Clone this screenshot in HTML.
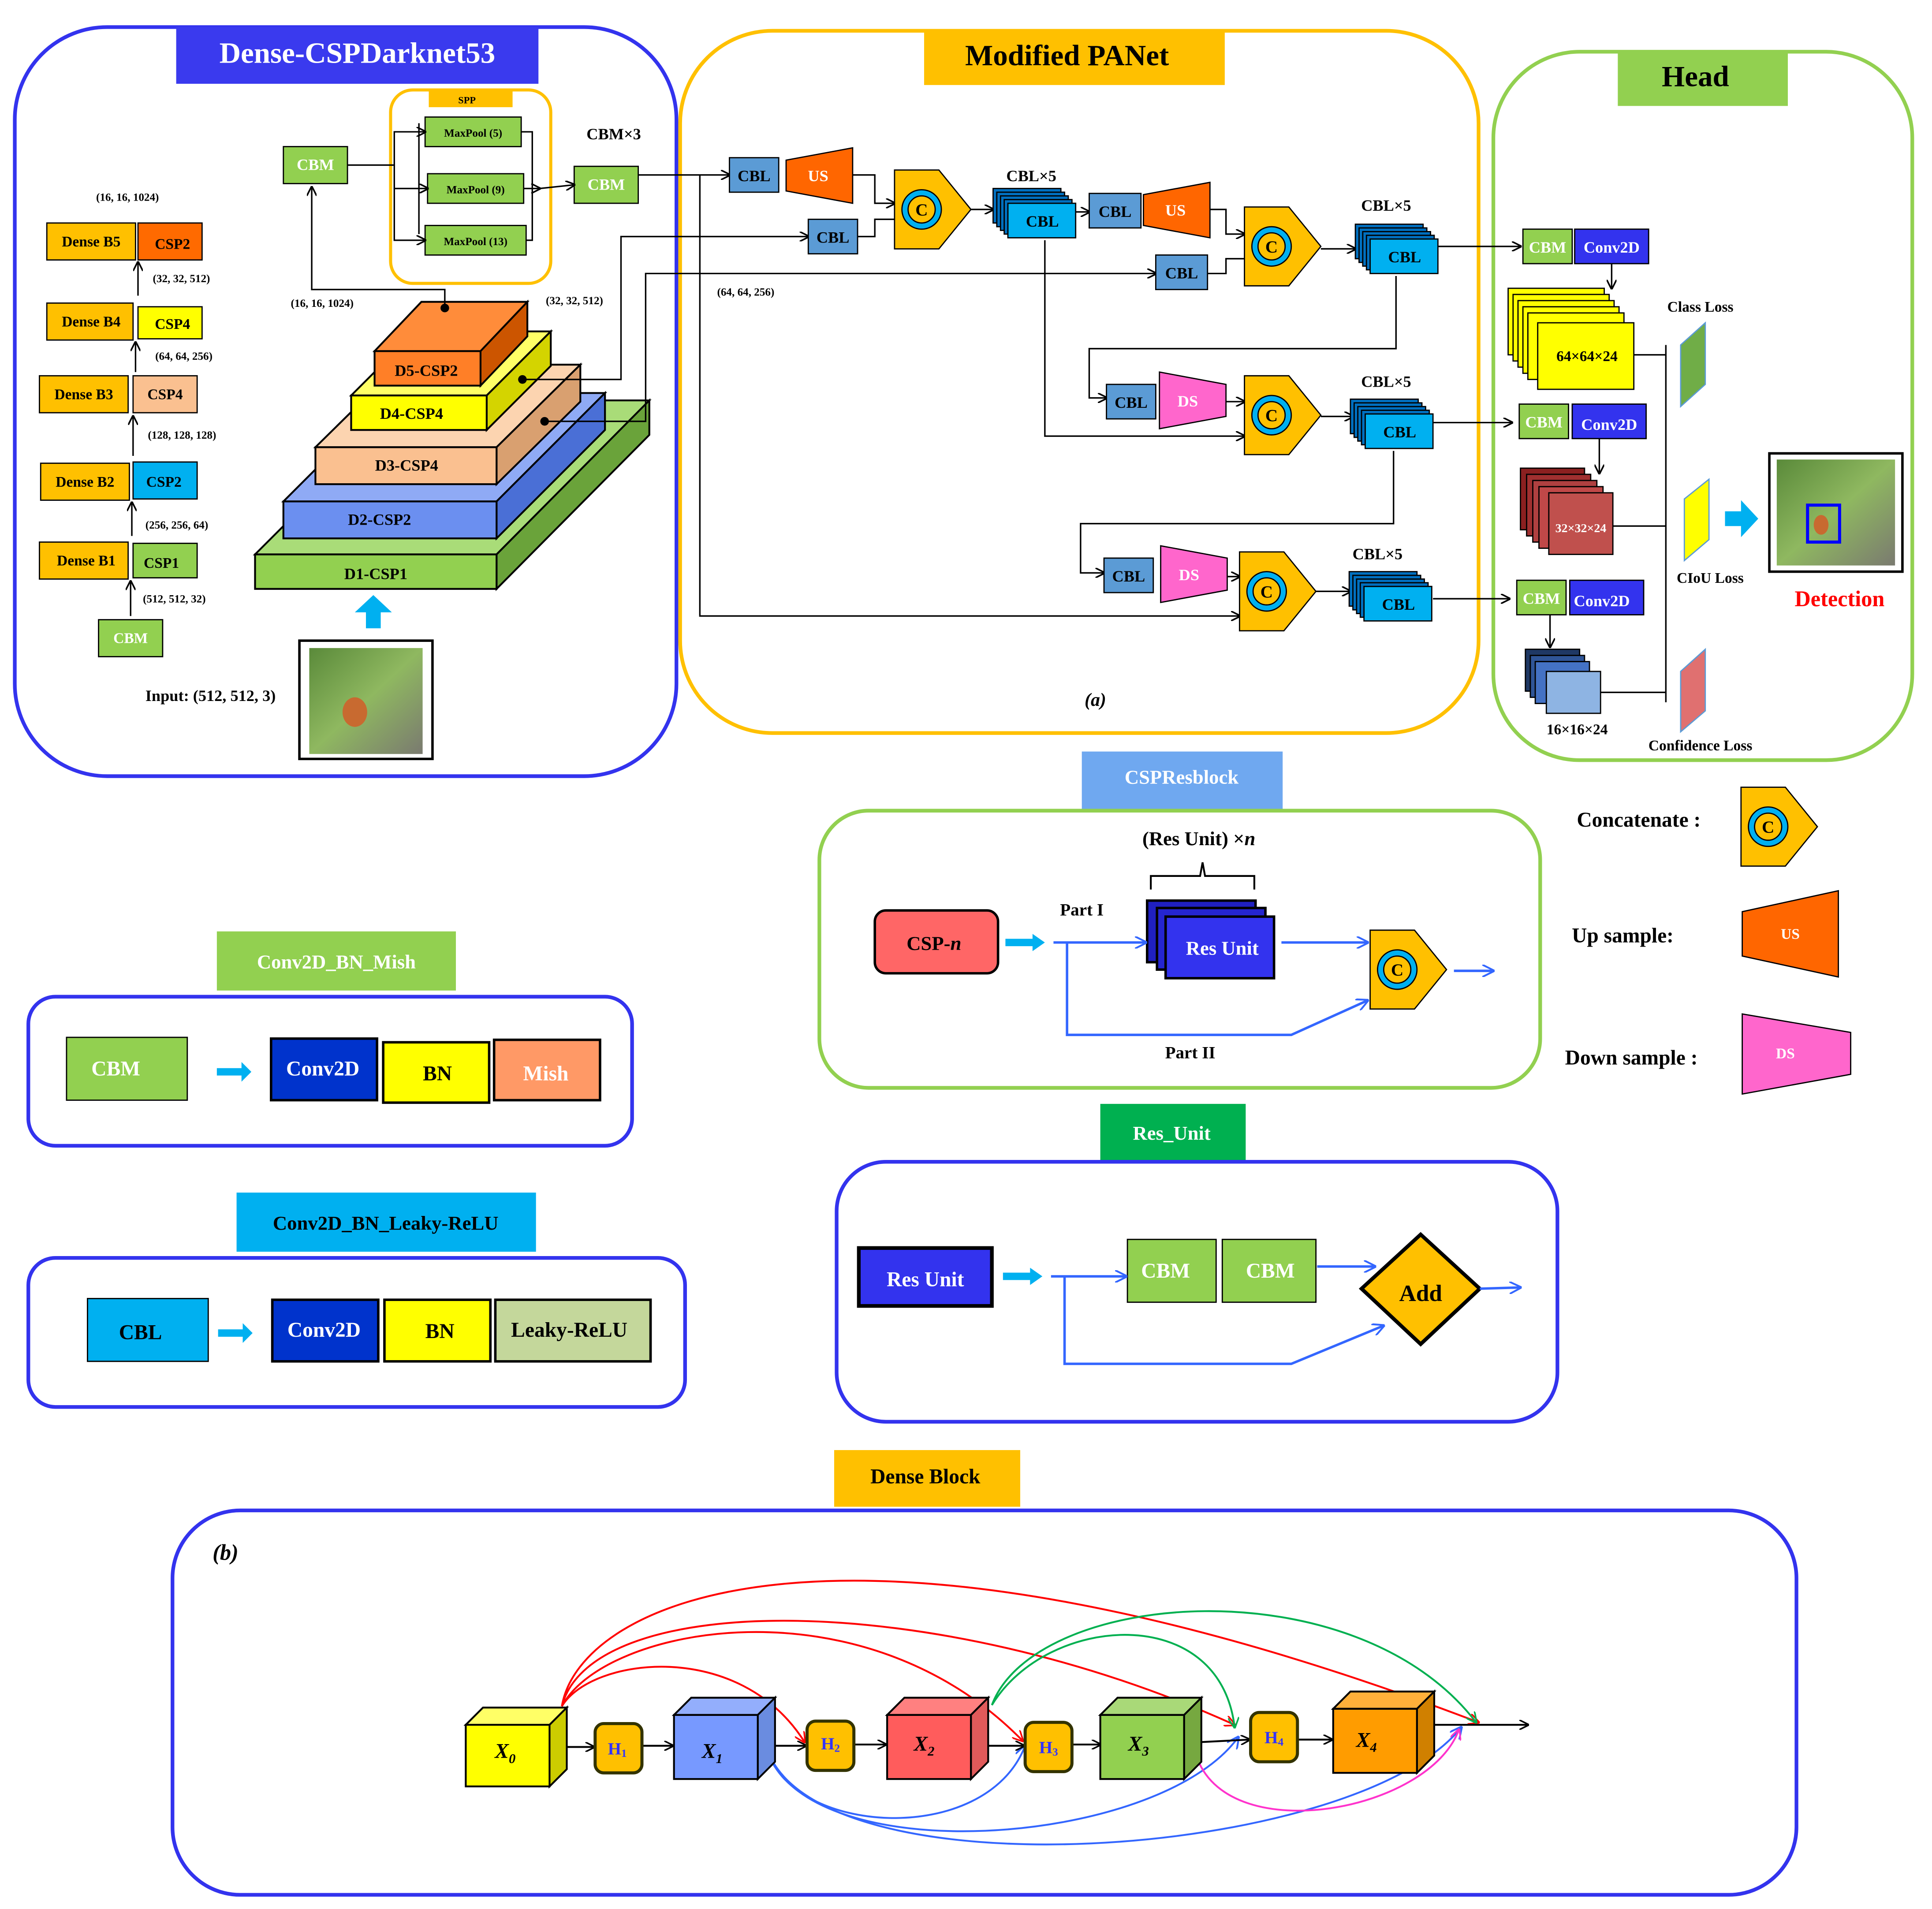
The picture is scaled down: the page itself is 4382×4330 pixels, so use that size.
<!DOCTYPE html>
<html><head><meta charset="utf-8">
<style>
html,body{margin:0;padding:0;background:#fff;}
svg{display:block;}
text{font-family:"Liberation Serif",serif;font-weight:bold;}
</style></head>
<body>
<svg xmlns="http://www.w3.org/2000/svg" width="4382" height="4330" viewBox="0 0 1568 1549.5" preserveAspectRatio="none">
<defs>
<marker id="ar" markerWidth="8" markerHeight="8" refX="7" refY="4" orient="auto" markerUnits="userSpaceOnUse"><path d="M0,0 L8,4 L0,8" fill="none" stroke="#000" stroke-width="1.3"/></marker>
<marker id="arb" markerWidth="10" markerHeight="10" refX="9" refY="5" orient="auto" markerUnits="userSpaceOnUse"><path d="M0,0 L10,5 L0,10" fill="none" stroke="#3366ff" stroke-width="1.5"/></marker>
<marker id="arr" markerWidth="9" markerHeight="9" refX="8" refY="4.5" orient="auto" markerUnits="userSpaceOnUse"><path d="M0,0 L9,4.5 L0,9" fill="none" stroke="#f00" stroke-width="1.3"/></marker>
<marker id="arg" markerWidth="9" markerHeight="9" refX="8" refY="4.5" orient="auto" markerUnits="userSpaceOnUse"><path d="M0,0 L9,4.5 L0,9" fill="none" stroke="#00b050" stroke-width="1.3"/></marker>
<marker id="arp" markerWidth="9" markerHeight="9" refX="8" refY="4.5" orient="auto" markerUnits="userSpaceOnUse"><path d="M0,0 L9,4.5 L0,9" fill="none" stroke="#ff33cc" stroke-width="1.3"/></marker>
<linearGradient id="leaf" x1="0" y1="0" x2="1" y2="1"><stop offset="0" stop-color="#5a8a3a"/><stop offset="0.5" stop-color="#8fb860"/><stop offset="1" stop-color="#7a7a70"/></linearGradient>
<g id="concat"><polygon points="0,0 36,0 62,32 36,64 0,64" fill="#ffc000" stroke="#000" stroke-width="1"/><circle cx="22" cy="32" r="16" fill="#00b0f0" stroke="#000" stroke-width="1"/><circle cx="22" cy="32" r="11" fill="#ffc000" stroke="#000" stroke-width="1"/><text x="22" y="37" font-size="14" text-anchor="middle">C</text></g>
<g id="stack"><rect x="0" y="0" width="55" height="28" fill="#0070c0" stroke="#000"/><rect x="3" y="3" width="55" height="28" fill="#0070c0" stroke="#000"/><rect x="6" y="6" width="55" height="28" fill="#0070c0" stroke="#000"/><rect x="9" y="9" width="55" height="28" fill="#0070c0" stroke="#000"/><rect x="12" y="12" width="55" height="28" fill="#00b0f0" stroke="#000"/><text x="40" y="31" font-size="13" text-anchor="middle">CBL</text></g>
</defs>

<rect x="12" y="22" width="537" height="608" rx="75" fill="none" stroke="#3333ee" stroke-width="3"/>
<rect x="143" y="22" width="294" height="46" fill="#3a3aee"/>
<text x="290" y="51" font-size="24" fill="#fff" text-anchor="middle">Dense-CSPDarknet53</text>

<rect x="552" y="25" width="648" height="570" rx="75" fill="none" stroke="#ffc000" stroke-width="3"/>
<rect x="750" y="25" width="244" height="44" fill="#ffc000"/>
<text x="866" y="53" font-size="24" text-anchor="middle">Modified PANet</text>

<rect x="1212" y="42" width="340" height="575" rx="70" fill="none" stroke="#92d050" stroke-width="3"/>
<rect x="1313" y="42" width="138" height="44" fill="#92d050"/>
<text x="1376" y="70" font-size="24" text-anchor="middle">Head</text>

<g font-size="12">
<rect x="38" y="181" width="72" height="30" fill="#ffc000" stroke="#000"/><text x="74" y="200" text-anchor="middle">Dense B5</text>
<rect x="112" y="181" width="52" height="30" fill="#ff6a00" stroke="#000"/><text x="140" y="202" text-anchor="middle">CSP2</text>
<rect x="38" y="246" width="70" height="30" fill="#ffc000" stroke="#000"/><text x="74" y="265" text-anchor="middle">Dense B4</text>
<rect x="112" y="249" width="52" height="26" fill="#ffff00" stroke="#000"/><text x="140" y="267" text-anchor="middle">CSP4</text>
<rect x="32" y="305" width="72" height="30" fill="#ffc000" stroke="#000"/><text x="68" y="324" text-anchor="middle">Dense B3</text>
<rect x="108" y="305" width="52" height="30" fill="#fac090" stroke="#000"/><text x="134" y="324" text-anchor="middle">CSP4</text>
<rect x="33" y="376" width="72" height="30" fill="#ffc000" stroke="#000"/><text x="69" y="395" text-anchor="middle">Dense B2</text>
<rect x="108" y="375" width="52" height="30" fill="#00b0f0" stroke="#000"/><text x="133" y="395" text-anchor="middle">CSP2</text>
<rect x="32" y="440" width="72" height="30" fill="#ffc000" stroke="#000"/><text x="70" y="459" text-anchor="middle">Dense B1</text>
<rect x="108" y="441" width="52" height="28" fill="#92d050" stroke="#000"/><text x="131" y="461" text-anchor="middle">CSP1</text>
<rect x="80" y="503" width="52" height="30" fill="#92d050" stroke="#000"/><text x="106" y="522" text-anchor="middle" fill="#fff">CBM</text>
</g>
<g stroke="#000" stroke-width="1.2" marker-end="url(#ar)">
<line x1="112" y1="240" x2="112" y2="213"/><line x1="110" y1="302" x2="110" y2="278"/><line x1="108" y1="370" x2="108" y2="338"/><line x1="107" y1="435" x2="107" y2="408"/><line x1="106" y1="500" x2="106" y2="472"/>
</g>
<g font-size="9">
<text x="78" y="163">(16, 16, 1024)</text><text x="124" y="229">(32, 32, 512)</text><text x="126" y="292">(64, 64, 256)</text><text x="120" y="356">(128, 128, 128)</text><text x="118" y="429">(256, 256, 64)</text><text x="116" y="489">(512, 512, 32)</text>
<text x="236" y="249">(16, 16, 1024)</text><text x="443" y="247">(32, 32, 512)</text><text x="582" y="240">(64, 64, 256)</text>
</g>
<text x="118" y="569" font-size="13">Input: (512, 512, 3)</text>
<rect x="243" y="520" width="108" height="96" fill="#fff" stroke="#000" stroke-width="2"/>
<rect x="251" y="526" width="92" height="86" fill="url(#leaf)"/>
<ellipse cx="288" cy="578" rx="10" ry="12" fill="#c86a30"/>
<polygon points="303,483 318,497 309,497 309,510 297,510 297,497 288,497" fill="#00b0f0"/>

<g stroke="#000" stroke-width="1.5">
<polygon points="207,450 332,325 527,325 403,450" fill="#a9dc78"/>
<polygon points="403,450 527,325 527,353 403,478" fill="#6aa33a"/>
<rect x="207" y="450" width="196" height="28" fill="#92d050"/>
<polygon points="230,407 318,319 491,319 403,407" fill="#8faaf5"/>
<polygon points="403,407 491,319 491,349 403,437" fill="#4a6fd6"/>
<rect x="230" y="407" width="173" height="30" fill="#6b8ff0"/>
<polygon points="256,363 324,296 471,296 403,363" fill="#fcd4b0"/>
<polygon points="403,363 471,296 471,326 403,393" fill="#d9a070"/>
<rect x="256" y="363" width="147" height="30" fill="#fac090"/>
<polygon points="285,321 337,269 447,269 395,321" fill="#ffff66"/>
<polygon points="395,321 447,269 447,297 395,349" fill="#d4d400"/>
<rect x="285" y="321" width="110" height="28" fill="#ffff00"/>
<polygon points="304,285 342,245 428,245 390,285" fill="#ff8c3a"/>
<polygon points="390,285 428,245 428,273 390,313" fill="#cc5500"/>
<rect x="304" y="285" width="86" height="28" fill="#ff7f27"/>
</g>
<g font-size="13" text-anchor="middle">
<text x="305" y="470">D1-CSP1</text><text x="308" y="426">D2-CSP2</text><text x="330" y="382">D3-CSP4</text><text x="334" y="340">D4-CSP4</text><text x="346" y="305">D5-CSP2</text>
</g>

<rect x="317" y="73" width="130" height="157" rx="18" fill="none" stroke="#ffc000" stroke-width="2.5"/>
<rect x="348" y="73" width="68" height="14" fill="#ffc000"/><text x="379" y="84" font-size="8" text-anchor="middle">SPP</text>
<g font-size="9" text-anchor="middle">
<rect x="345" y="95" width="78" height="24" fill="#92d050" stroke="#000"/><text x="384" y="111">MaxPool  (5)</text>
<rect x="347" y="141" width="78" height="24" fill="#92d050" stroke="#000"/><text x="386" y="157">MaxPool  (9)</text>
<rect x="345" y="183" width="82" height="24" fill="#92d050" stroke="#000"/><text x="386" y="199">MaxPool  (13)</text>
</g>
<rect x="230" y="119" width="52" height="30" fill="#92d050" stroke="#000"/><text x="256" y="138" font-size="13" fill="#fff" text-anchor="middle">CBM</text>
<rect x="466" y="135" width="52" height="30" fill="#92d050" stroke="#000"/><text x="492" y="154" font-size="13" fill="#fff" text-anchor="middle">CBM</text>
<text x="476" y="113" font-size="13">CBM×3</text>
<g stroke="#000" stroke-width="1.2" fill="none">
<polyline points="282,134 305,134 320,134 320,107 345,107" marker-end="url(#ar)"/>
<polyline points="320,134 320,153 347,153" marker-end="url(#ar)"/>
<polyline points="320,153 320,195 345,195" marker-end="url(#ar)"/>
<polyline points="340,100 340,190"/>
<polyline points="423,107 432,107 432,195 427,195"/>
<polyline points="425,153 438,153 438,153" marker-end="url(#ar)"/>
<polyline points="438,153 466,150" marker-end="url(#ar)"/>
<polyline points="361,250 361,235 253,235 253,152" marker-end="url(#ar)"/>
</g>
<circle cx="361" cy="250" r="3.5" fill="#000"/>
<circle cx="424" cy="308" r="3.5" fill="#000"/>
<circle cx="442" cy="342" r="3.5" fill="#000"/>

<g stroke="#000" stroke-width="1.2" fill="none">
<polyline points="518,142 592,142" marker-end="url(#ar)"/>
<polyline points="424,308 504,308 504,192 656,192" marker-end="url(#ar)"/>
<polyline points="442,342 524,342 524,222 938,222" marker-end="url(#ar)"/>
<polyline points="568,142 568,500 1006,500" marker-end="url(#ar)"/>
<polyline points="692,142 710,142 710,165 726,165" marker-end="url(#ar)"/>
<polyline points="696,192 710,192 710,178 726,178"/>
<polyline points="788,170 806,170" marker-end="url(#ar)"/>
<polyline points="872,172 884,172" marker-end="url(#ar)"/>
<polyline points="982,170 995,170 995,190 1010,190" marker-end="url(#ar)"/>
<polyline points="980,222 995,222 995,210 1010,210"/>
<polyline points="1072,202 1100,202" marker-end="url(#ar)"/>
<polyline points="1167,200 1234,200" marker-end="url(#ar)"/>
<polyline points="1133,224 1133,283 884,283 884,323 898,323" marker-end="url(#ar)"/>
<polyline points="848,195 848,354 1010,354" marker-end="url(#ar)"/>
<polyline points="995,326 1010,326" marker-end="url(#ar)"/>
<polyline points="1072,338 1098,338" marker-end="url(#ar)"/>
<polyline points="1163,343 1227,343" marker-end="url(#ar)"/>
<polyline points="1131,366 1131,425 877,425 877,465 896,465" marker-end="url(#ar)"/>
<polyline points="996,468 1006,468" marker-end="url(#ar)"/>
<polyline points="1068,480 1096,480" marker-end="url(#ar)"/>
<polyline points="1163,486 1225,486" marker-end="url(#ar)"/>
</g>
<g font-size="13" text-anchor="middle">
<rect x="592" y="128" width="40" height="28" fill="#5b9bd5" stroke="#000"/><text x="612" y="147">CBL</text>
<rect x="656" y="178" width="40" height="28" fill="#5b9bd5" stroke="#000"/><text x="676" y="197">CBL</text>
<rect x="884" y="157" width="42" height="28" fill="#5b9bd5" stroke="#000"/><text x="905" y="176">CBL</text>
<rect x="938" y="207" width="42" height="28" fill="#5b9bd5" stroke="#000"/><text x="959" y="226">CBL</text>
<rect x="898" y="312" width="40" height="28" fill="#5b9bd5" stroke="#000"/><text x="918" y="331">CBL</text>
<rect x="896" y="453" width="40" height="28" fill="#5b9bd5" stroke="#000"/><text x="916" y="472">CBL</text>
<polygon points="638,130 692,120 692,165 638,155" fill="#ff6600" stroke="#000"/><text x="664" y="147" fill="#fff">US</text>
<polygon points="928,158 982,148 982,193 928,183" fill="#ff6600" stroke="#000"/><text x="954" y="175" fill="#fff">US</text>
<polygon points="941,302 995,312 995,338 941,348" fill="#ff66cc" stroke="#000"/><text x="964" y="330" fill="#fff">DS</text>
<polygon points="942,443 996,453 996,479 942,489" fill="#ff66cc" stroke="#000"/><text x="965" y="471" fill="#fff">DS</text>
<text x="837" y="147">CBL×5</text><text x="1125" y="171">CBL×5</text><text x="1125" y="314">CBL×5</text><text x="1118" y="454">CBL×5</text>
</g>
<use href="#concat" x="726" y="138"/>
<use href="#concat" x="1010" y="168"/>
<use href="#concat" x="1010" y="305"/>
<use href="#concat" x="1006" y="448"/>
<use href="#stack" x="806" y="153"/>
<use href="#stack" x="1100" y="182"/>
<use href="#stack" x="1096" y="324"/>
<use href="#stack" x="1095" y="464"/>
<text x="889" y="573" font-size="15" font-style="italic" text-anchor="middle">(a)</text>

<g font-size="13" text-anchor="middle">
<rect x="1236" y="186" width="40" height="28" fill="#92d050" stroke="#000"/><text x="1256" y="205" fill="#fff">CBM</text>
<rect x="1278" y="186" width="60" height="28" fill="#3333ee" stroke="#000"/><text x="1308" y="205" fill="#fff">Conv2D</text>
<rect x="1233" y="328" width="40" height="28" fill="#92d050" stroke="#000"/><text x="1253" y="347" fill="#fff">CBM</text>
<rect x="1276" y="328" width="60" height="28" fill="#3333ee" stroke="#000"/><text x="1306" y="349" fill="#fff">Conv2D</text>
<rect x="1231" y="471" width="40" height="28" fill="#92d050" stroke="#000"/><text x="1251" y="490" fill="#fff">CBM</text>
<rect x="1274" y="471" width="60" height="28" fill="#3333ee" stroke="#000"/><text x="1300" y="492" fill="#fff">Conv2D</text>
</g>
<g stroke="#000" stroke-width="1">
<rect x="1224" y="234" width="78" height="54" fill="#ffff00"/><rect x="1228" y="239" width="78" height="54" fill="#ffff00"/><rect x="1232" y="244" width="78" height="54" fill="#ffff00"/><rect x="1236" y="249" width="78" height="54" fill="#ffff00"/><rect x="1240" y="254" width="78" height="54" fill="#ffff00"/><rect x="1248" y="262" width="78" height="54" fill="#ffff00"/>
<rect x="1234" y="380" width="52" height="50" fill="#8b2020"/><rect x="1239" y="385" width="52" height="50" fill="#a03030"/><rect x="1244" y="390" width="52" height="50" fill="#b04040"/><rect x="1249" y="395" width="52" height="50" fill="#c04848"/><rect x="1257" y="400" width="52" height="50" fill="#c0504d"/>
<rect x="1238" y="527" width="44" height="34" fill="#1f3864"/><rect x="1242" y="532" width="44" height="34" fill="#2f5597"/><rect x="1246" y="537" width="44" height="34" fill="#4472c4"/><rect x="1255" y="545" width="44" height="34" fill="#8eb4e3"/>
</g>
<text x="1288" y="293" font-size="12" text-anchor="middle">64×64×24</text>
<text x="1283" y="432" font-size="10" fill="#fff" text-anchor="middle">32×32×24</text>
<text x="1280" y="596" font-size="12" text-anchor="middle">16×16×24</text>
<g stroke="#000" stroke-width="1.2" fill="none">
<polyline points="1308,214 1308,234" marker-end="url(#ar)"/>
<polyline points="1298,356 1298,384" marker-end="url(#ar)"/>
<polyline points="1258,499 1258,525" marker-end="url(#ar)"/>
<polyline points="1326,288 1352,288"/>
<polyline points="1309,427 1352,427"/>
<polyline points="1299,562 1352,562"/>
<polyline points="1352,280 1352,570"/>
</g>
<polygon points="1364,280 1384,262 1384,312 1364,330" fill="#70ad47" stroke="#5b9bd5"/>
<polygon points="1367,405 1387,389 1387,438 1367,455" fill="#ffff00" stroke="#5b9bd5"/>
<polygon points="1364,545 1384,527 1384,577 1364,594" fill="#e07070" stroke="#5b9bd5"/>
<g font-size="12" text-anchor="middle">
<text x="1380" y="253">Class Loss</text><text x="1388" y="473">CIoU Loss</text><text x="1380" y="609">Confidence Loss</text>
</g>
<polygon points="1400,415 1413,415 1413,406 1427,421 1413,436 1413,427 1400,427" fill="#00b0f0"/>
<rect x="1436" y="368" width="108" height="96" fill="#fff" stroke="#000" stroke-width="2"/>
<rect x="1442" y="373" width="96" height="86" fill="url(#leaf)"/>
<rect x="1467" y="410" width="26" height="30" fill="none" stroke="#0000ff" stroke-width="2.5"/>
<ellipse cx="1478" cy="426" rx="6" ry="8" fill="#c86a30"/>
<text x="1493" y="492" font-size="18" fill="#f00" text-anchor="middle">Detection</text>

<rect x="878" y="610" width="163" height="48" fill="#6fa8f0"/>
<text x="959" y="636" font-size="16" fill="#fff" text-anchor="middle">CSPResblock</text>
<rect x="665" y="658" width="585" height="225" rx="40" fill="none" stroke="#92d050" stroke-width="3"/>
<rect x="710" y="739" width="100" height="51" rx="9" fill="#ff6666" stroke="#000" stroke-width="2"/>
<text x="758" y="771" font-size="16" text-anchor="middle">CSP-<tspan font-style="italic">n</tspan></text>
<polygon points="816,762 838,762 838,758 848,765 838,772 838,768 816,768" fill="#00b0f0"/>
<text x="973" y="686" font-size="16" text-anchor="middle">(Res Unit) ×<tspan font-style="italic">n</tspan></text>
<path d="M934,722 L934,711 L974,711 L976,700 L978,711 L1018,711 L1018,722" fill="none" stroke="#000" stroke-width="1.5"/>
<rect x="931" y="731" width="88" height="50" fill="#2020c0" stroke="#000" stroke-width="2"/>
<rect x="939" y="737" width="88" height="50" fill="#2525d0" stroke="#000" stroke-width="2"/>
<rect x="946" y="744" width="88" height="50" fill="#3333ee" stroke="#000" stroke-width="2"/>
<text x="992" y="775" font-size="16" fill="#fff" text-anchor="middle">Res Unit</text>
<text x="878" y="743" font-size="14" text-anchor="middle">Part I</text>
<text x="966" y="859" font-size="14" text-anchor="middle">Part II</text>
<g stroke="#3366ff" stroke-width="2" fill="none">
<polyline points="855,765 930,765" marker-end="url(#arb)"/>
<polyline points="866,765 866,840 1048,840 1110,812" marker-end="url(#arb)"/>
<polyline points="1040,765 1110,765" marker-end="url(#arb)"/>
<polyline points="1180,788 1212,788" marker-end="url(#arb)"/>
</g>
<use href="#concat" x="1112" y="755"/>

<text x="1330" y="671" font-size="17" text-anchor="middle">Concatenate :</text>
<use href="#concat" x="1413" y="639"/>
<text x="1317" y="765" font-size="17" text-anchor="middle">Up sample:</text>
<polygon points="1414,740 1492,723 1492,793 1414,776" fill="#ff6600" stroke="#000"/><text x="1453" y="762" font-size="12" fill="#fff" text-anchor="middle">US</text>
<text x="1324" y="864" font-size="17" text-anchor="middle">Down sample :</text>
<polygon points="1414,823 1502,838 1502,872 1414,888" fill="#ff66cc" stroke="#000"/><text x="1449" y="859" font-size="12" fill="#fff" text-anchor="middle">DS</text>

<rect x="176" y="756" width="194" height="48" fill="#92d050"/>
<text x="273" y="786" font-size="16" fill="#fff" text-anchor="middle">Conv2D_BN_Mish</text>
<rect x="23" y="809" width="490" height="121" rx="22" fill="none" stroke="#3333ee" stroke-width="3"/>
<rect x="54" y="842" width="98" height="51" fill="#92d050" stroke="#000"/><text x="94" y="873" font-size="17" fill="#fff" text-anchor="middle">CBM</text>
<polygon points="176,867 196,867 196,862 204,870 196,878 196,873 176,873" fill="#00b0f0"/>
<rect x="220" y="843" width="86" height="50" fill="#0033cc" stroke="#000" stroke-width="2"/><text x="262" y="873" font-size="17" fill="#fff" text-anchor="middle">Conv2D</text>
<rect x="311" y="846" width="86" height="49" fill="#ffff00" stroke="#000" stroke-width="2"/><text x="355" y="877" font-size="17" text-anchor="middle">BN</text>
<rect x="401" y="844" width="86" height="49" fill="#ff9966" stroke="#000" stroke-width="2"/><text x="443" y="877" font-size="17" fill="#fff" text-anchor="middle">Mish</text>

<rect x="192" y="968" width="243" height="48" fill="#00b0f0"/>
<text x="313" y="998" font-size="16" text-anchor="middle">Conv2D_BN_Leaky-ReLU</text>
<rect x="23" y="1021" width="533" height="121" rx="22" fill="none" stroke="#3333ee" stroke-width="3"/>
<rect x="71" y="1054" width="98" height="51" fill="#00b0f0" stroke="#000"/><text x="114" y="1087" font-size="17" text-anchor="middle">CBL</text>
<polygon points="177,1079 197,1079 197,1074 205,1082 197,1090 197,1085 177,1085" fill="#00b0f0"/>
<rect x="221" y="1055" width="86" height="50" fill="#0033cc" stroke="#000" stroke-width="2"/><text x="263" y="1085" font-size="17" fill="#fff" text-anchor="middle">Conv2D</text>
<rect x="312" y="1055" width="86" height="50" fill="#ffff00" stroke="#000" stroke-width="2"/><text x="357" y="1086" font-size="17" text-anchor="middle">BN</text>
<rect x="402" y="1055" width="126" height="50" fill="#c4d79b" stroke="#000" stroke-width="2"/><text x="462" y="1085" font-size="17" text-anchor="middle">Leaky-ReLU</text>

<rect x="893" y="896" width="118" height="46" fill="#00b050"/>
<text x="951" y="925" font-size="16" fill="#fff" text-anchor="middle">Res_Unit</text>
<rect x="679" y="943" width="585" height="211" rx="40" fill="none" stroke="#3333ee" stroke-width="3"/>
<rect x="697" y="1013" width="108" height="47" fill="#3333ee" stroke="#000" stroke-width="3"/><text x="751" y="1044" font-size="17" fill="#fff" text-anchor="middle">Res Unit</text>
<polygon points="814,1033 836,1033 836,1029 846,1036 836,1043 836,1039 814,1039" fill="#00b0f0"/>
<rect x="915" y="1006" width="72" height="51" fill="#92d050" stroke="#000"/><text x="946" y="1037" font-size="17" fill="#fff" text-anchor="middle">CBM</text>
<rect x="992" y="1006" width="76" height="51" fill="#92d050" stroke="#000"/><text x="1031" y="1037" font-size="17" fill="#fff" text-anchor="middle">CBM</text>
<polygon points="1153,1002 1201,1046 1153,1091 1105,1046" fill="#ffc000" stroke="#000" stroke-width="3"/>
<text x="1153" y="1056" font-size="19" text-anchor="middle">Add</text>
<g stroke="#3366ff" stroke-width="2" fill="none">
<polyline points="853,1036 914,1036" marker-end="url(#arb)"/>
<polyline points="864,1036 864,1107 1048,1107 1123,1076" marker-end="url(#arb)"/>
<polyline points="1069,1028 1116,1028" marker-end="url(#arb)"/>
<polyline points="1201,1046 1234,1045" marker-end="url(#arb)"/>
</g>

<rect x="677" y="1177" width="151" height="46" fill="#ffc000"/>
<text x="751" y="1204" font-size="17" text-anchor="middle">Dense Block</text>
<rect x="140" y="1226" width="1318" height="312" rx="55" fill="none" stroke="#3333ee" stroke-width="3"/>
<text x="183" y="1266" font-size="18" font-style="italic" text-anchor="middle">(b)</text>

<g fill="none" stroke-width="1.5">
<path d="M456,1385 C470,1300 680,1200 1200,1398" stroke="#f00" marker-end="url(#arr)"/>
<path d="M456,1385 C480,1290 760,1290 1002,1400" stroke="#f00" marker-end="url(#arr)"/>
<path d="M456,1385 C490,1320 700,1280 830,1413" stroke="#f00" marker-end="url(#arr)"/>
<path d="M456,1385 C480,1345 600,1330 653,1414" stroke="#f00" marker-end="url(#arr)"/>
<path d="M805,1384 C840,1290 1100,1270 1198,1398" stroke="#00b050" marker-end="url(#arg)"/>
<path d="M805,1384 C850,1310 990,1300 1002,1402" stroke="#00b050" marker-end="url(#arg)"/>
<path d="M622,1418 C640,1490 800,1500 832,1417" stroke="#3366ff" marker-end="url(#arb)"/>
<path d="M622,1418 C650,1520 940,1500 1005,1410" stroke="#3366ff" marker-end="url(#arb)"/>
<path d="M622,1418 C660,1540 1100,1510 1186,1402" stroke="#3366ff" marker-end="url(#arb)"/>
<path d="M972,1428 C1000,1500 1160,1470 1184,1404" stroke="#ff33cc" marker-end="url(#arp)"/>
</g>
<g stroke="#000" stroke-width="1.5" fill="none" marker-end="url(#ar)">
<line x1="459" y1="1418" x2="482" y2="1418"/><line x1="521" y1="1417" x2="546" y2="1417"/>
<line x1="627" y1="1417" x2="654" y2="1417"/><line x1="693" y1="1416" x2="719" y2="1416"/>
<line x1="801" y1="1417" x2="831" y2="1417"/><line x1="870" y1="1416" x2="893" y2="1416"/>
<line x1="975" y1="1414" x2="1014" y2="1412"/><line x1="1053" y1="1412" x2="1081" y2="1412"/>
<line x1="1162" y1="1400" x2="1240" y2="1400"/>
</g>
<g stroke="#000" stroke-width="1.5">
<polygon points="378,1400 392,1386 460,1386 446,1400" fill="#ffff66"/><polygon points="446,1400 460,1386 460,1436 446,1450" fill="#cccc00"/><rect x="378" y="1400" width="68" height="50" fill="#ffff00"/>
<polygon points="547,1392 561,1378 629,1378 615,1392" fill="#93aefc"/><polygon points="615,1392 629,1378 629,1430 615,1444" fill="#6a8ce0"/><rect x="547" y="1392" width="68" height="52" fill="#7799ff"/>
<polygon points="720,1392 734,1378 802,1378 788,1392" fill="#ff8080"/><polygon points="788,1392 802,1378 802,1430 788,1444" fill="#e05a5a"/><rect x="720" y="1392" width="68" height="52" fill="#ff5c5c"/>
<polygon points="893,1392 907,1378 975,1378 961,1392" fill="#a9d978"/><polygon points="961,1392 975,1378 975,1430 961,1444" fill="#76a840"/><rect x="893" y="1392" width="68" height="52" fill="#92d050"/>
<polygon points="1082,1387 1096,1373 1164,1373 1150,1387" fill="#ffb03a"/><polygon points="1150,1387 1164,1373 1164,1425 1150,1439" fill="#d08000"/><rect x="1082" y="1387" width="68" height="52" fill="#ff9c00"/>
</g>
<g stroke="#333300" stroke-width="2.5" fill="#ffc000">
<rect x="483" y="1399" width="38" height="40" rx="7"/><rect x="655" y="1397" width="38" height="40" rx="7"/><rect x="832" y="1398" width="38" height="40" rx="7"/><rect x="1015" y="1390" width="38" height="40" rx="7"/>
</g>
<g font-size="17" font-style="italic" font-weight="normal" text-anchor="middle">
<text x="410" y="1427">X<tspan font-size="11" dy="4">0</tspan></text>
<text x="578" y="1427">X<tspan font-size="11" dy="4">1</tspan></text>
<text x="750" y="1421">X<tspan font-size="11" dy="4">2</tspan></text>
<text x="924" y="1421">X<tspan font-size="11" dy="4">3</tspan></text>
<text x="1109" y="1418">X<tspan font-size="11" dy="4">4</tspan></text>
</g>
<g font-size="14" fill="#3333ff" font-weight="normal" text-anchor="middle">
<text x="501" y="1424">H<tspan font-size="9" dy="2">1</tspan></text>
<text x="674" y="1420">H<tspan font-size="9" dy="2">2</tspan></text>
<text x="851" y="1423">H<tspan font-size="9" dy="2">3</tspan></text>
<text x="1034" y="1415">H<tspan font-size="9" dy="2">4</tspan></text>
</g>
</svg>
</body></html>
